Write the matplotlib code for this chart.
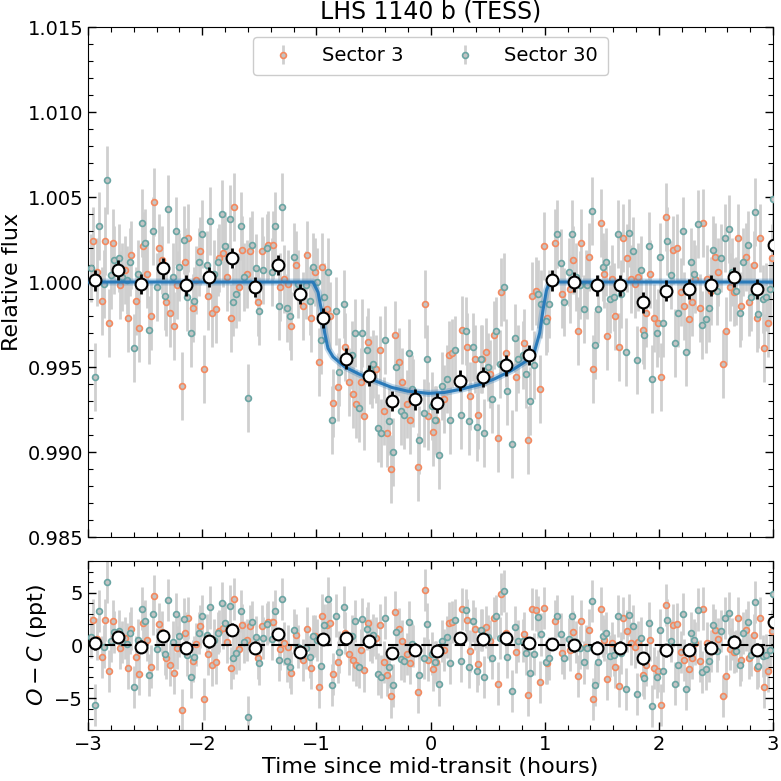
import numpy as np
import matplotlib
matplotlib.use("Agg")
import matplotlib.pyplot as plt
from matplotlib.ticker import MultipleLocator, FormatStrFormatter

# ---------------- data ----------------
# Sector 3 (orange): time since mid-transit [h], flux deviation [ppt]
s3_t = [-2.96, -2.92, -2.88, -2.85, -2.82, -2.78, -2.72, -2.68, -2.65, -2.62,
        -2.58, -2.55, -2.52, -2.48, -2.45, -2.42, -2.38, -2.35, -2.32, -2.28,
        -2.25, -2.22, -2.18, -2.15, -2.12, -2.08, -2.05, -2.02, -1.98, -1.95,
        -1.91, -1.88, -1.85, -1.82, -1.78, -1.75, -1.72, -1.68, -1.65, -1.61,
        -1.58, -1.51,
        -1.48, -1.42, -1.38, -1.32, -1.28, -1.25, -1.22, -1.18, -1.12, -1.08,
        -1.05, -1.01, -0.98, -0.95, -0.91, -0.88, -0.85, -0.81, -0.75, -0.71,
        -0.68, -0.65, -0.61, -0.58, -0.55, -0.51, -0.48, -0.44, -0.41, -0.38,
        -0.35, -0.31, -0.28, -0.25, -0.21, -0.18, -0.15, -0.11, -0.05, -0.02,
        0.02, 0.05, 0.12, 0.16, 0.19, 0.28, 0.32, 0.35, 0.39, 0.42,
        0.45, 0.49, 0.52, 0.56, 0.59, 0.62, 0.66, 0.75, 0.82, 0.85,
        0.89, 0.92, 0.96, 0.99, 1.02, 1.09, 1.15, 1.22, 1.25, 1.29,
        1.32, 1.36, 1.39, 1.42,
        1.49, 1.52, 1.55, 1.59, 1.62, 1.65, 1.69, 1.72, 1.76, 1.79,
        1.82, 1.86, 1.89, 1.92, 1.96, 1.99, 2.02, 2.06, 2.12, 2.16,
        2.19, 2.22, 2.26, 2.29, 2.32, 2.36, 2.39, 2.42, 2.46, 2.49,
        2.52, 2.56, 2.59, 2.62, 2.66, 2.69, 2.72, 2.76, 2.79, 2.83,
        2.86, 2.89, 2.92, 2.96, 2.99]
s3_ppt = [2.4, 0.6, -1.1, 2.4, -2.4, 2.3, -0.2, 0.7, -2.1, 1.6,
          -1.1, -2.7, 2.1, 0.5, -2.0, 4.7, 2.0, 1.3, -1.2, -1.8,
          -2.6, -0.2, -6.1, 1.2, 2.6, -1.5, 0.1, 1.8, -5.1, -0.8,
          -1.8, -1.6, 1.4, 1.7, 0.3, -2.1, 4.4, -0.3, 1.9, 0.5,
          1.8, -1.2,
          1.8, 2.2, 2.2, -0.3, 0.2, -0.1, -2.6, 1.0, -1.4, 1.6,
          -2.1, 0.6, -4.7, 0.9, -1.6, -2.0, -7.1, -6.2, -3.8, -5.9,
          -6.6, -7.2, -5.9, -7.9, -3.5, -5.4, -5.1, -4.0, -7.6, -8.9,
          -11.0, -3.1, -4.7, -5.9, -7.2, -8.1, -6.5, -10.9, -1.3, -7.9,
          -8.8, -8.1, -6.9, -4.3, -4.2, -2.8, -3.8, -6.7, -4.5, -7.8,
          -4.5, -4.1, -5.4, -3.1, -9.2, -0.6, -4.2, -5.6, -3.6, -9.3,
          -0.8, -0.5, -6.3, 2.1, -2.1, 2.3, -0.7, -0.4, 1.3, -2.9,
          2.3, -0.1, 1.5, -5.1,
          3.5, 0.5, -3.2, 0.2, -2.0, -3.8, 2.6, 1.4, 0.2, -0.1,
          0.3, -2.8, -1.8, 0.5, -2.1, -2.4, -5.6, 3.8, 1.9, 2.0,
          -0.6, -1.4, -2.2, -1.2, 0.2, -1.5, 3.5, 0.2, -0.5, 1.5,
          0.6, -4.8, -2.9, -0.3, -0.6, 2.6, -1.4, 1.5, -1.2, 1.0,
          -2.1, 2.6, -3.9, -2.4, 1.4]

# Sector 30 (teal)
s30_t = [-2.97, -2.94, -2.90, -2.86, -2.83, -2.80, -2.77, -2.73, -2.70, -2.66,
         -2.63, -2.60, -2.56, -2.53, -2.50, -2.47, -2.43, -2.40, -2.33, -2.30,
         -2.26, -2.23, -2.20, -2.16, -2.13, -2.10, -2.07, -2.03, -2.00, -1.96,
         -1.93, -1.90, -1.86, -1.83, -1.80, -1.76, -1.73, -1.70, -1.66, -1.63,
         -1.60, -1.56, -1.53, -1.50,
         -1.47, -1.43, -1.39, -1.36, -1.33, -1.30, -1.26, -1.23, -1.20, -1.16,
         -1.09, -1.06, -1.03, -0.99, -0.96, -0.93, -0.90, -0.86, -0.83, -0.80,
         -0.76, -0.69, -0.66, -0.63, -0.60, -0.56, -0.53, -0.50, -0.46, -0.43,
         -0.40, -0.36, -0.33, -0.30, -0.26, -0.23, -0.19, -0.16, -0.10, -0.06,
         -0.03,
         0.01, 0.04, 0.07, 0.10, 0.14, 0.17, 0.21, 0.27, 0.31, 0.34,
         0.37, 0.41, 0.44, 0.47, 0.50, 0.54, 0.57, 0.61, 0.64, 0.67,
         0.71, 0.74, 0.77, 0.81, 0.84, 0.87, 0.91, 0.94, 0.97, 1.01,
         1.04, 1.11, 1.14, 1.17, 1.21, 1.24, 1.27, 1.31, 1.34, 1.37,
         1.41, 1.44, 1.47,
         1.51, 1.54, 1.57, 1.61, 1.64, 1.67, 1.71, 1.74, 1.77, 1.81,
         1.84, 1.87, 1.91, 1.94, 1.98, 2.01, 2.04, 2.07, 2.11, 2.14,
         2.17, 2.21, 2.24, 2.28, 2.31, 2.34, 2.38, 2.41, 2.44, 2.47,
         2.51, 2.54, 2.58, 2.61, 2.64, 2.68, 2.71, 2.74, 2.78, 2.81,
         2.84, 2.87, 2.91, 2.94, 2.97, 3.00]
s30_ppt = [0.8, -5.6, 3.3, -0.1, 6.0, 0.4, 1.3, 1.4, 0.3, 0.1,
           1.2, -3.9, 0.5, 3.5, 2.3, -2.8, 3.0, -0.3, -0.8, 4.3,
           0.3, 3.0, 0.9, 2.5, -0.9, -3.0, -1.1, 1.2, 2.8, 1.0,
           3.6, 0.5, 1.2, 4.0, 2.1, 3.7, -1.2, -0.7, 3.3, 0.3,
           -6.8, 2.2, 0.8, -1.7,
           0.7, 2.0, 0.6, 3.3, -1.4, 4.4, -1.5, -2.0, 1.5, -0.1,
           -0.2, -1.1, 0.9, 0.0, -3.4, -0.9, 0.6, -8.1, -1.7, -5.3,
           -1.3, -4.3, -3.0, -7.4, -3.0, -4.0, -5.2, -4.8, -8.6, -8.9,
           -3.4, -8.2, -10.0, -5.0, -7.6, -7.8, -4.2, -6.3, -9.3, -7.7,
           -4.5,
           -7.3, -8.1, -10.2, -6.1, -5.7, -8.1, -4.0, -7.8, -2.9, -8.2,
           -3.8, -8.5, -4.5, -8.9, -5.0, -6.9, -2.9, -4.8, -0.3, -6.4,
           -9.5, -3.3, -4.5, -4.3, -5.4, -7.0, -4.9, -0.7, -1.3, -2.3,
           -1.3, 2.8, 1.1, -1.2, 0.6, 2.8, 0.3, -0.2, -1.6, -0.2,
           4.2, -3.7, -1.6,
           0.9, 1.2, -1.0, -0.9, 2.8, -0.7, -4.1, 2.9, 1.8, -4.6,
           0.7, -3.1, 2.1, -5.7, -3.0, 1.5, -2.4, 2.4, 0.4, -3.6,
           -1.8, 3.0, -4.1, 1.2, 0.5, 3.4, -2.5, -2.2, -1.5, 1.9,
           -0.5, 1.4, 2.6, 3.1, 0.6, -0.5, -1.8, 1.2, 2.2, -0.9,
           4.1, -1.9, -1.0, -0.9, -0.4, 4.9]
point_err_ppt = 2.0

# Binned data
bin_t = [-2.94, -2.74, -2.54, -2.34, -2.14, -1.94, -1.74, -1.54, -1.34, -1.14,
         -0.94, -0.74, -0.54, -0.34, -0.14, 0.06, 0.26, 0.46, 0.66, 0.86,
         1.06, 1.26, 1.46, 1.66, 1.86, 2.06, 2.26, 2.46, 2.66, 2.86, 3.01]
bin_ppt = [0.1, 0.7, -0.1, 0.8, -0.2, 0.3, 1.4, -0.3, 1.0, -0.7,
           -2.1, -4.5, -5.5, -7.0, -6.9, -7.1, -5.8, -5.6, -4.9, -4.3,
           0.1, 0.0, -0.2, -0.2, -1.2, -0.5, -0.4, -0.2, 0.3, -0.4, 2.2]
bin_resid = [0.2, 0.8, -0.1, 0.9, -0.2, 0.4, 1.5, -0.2, 1.1, -0.6,
             0.6, 0.7, 0.4, -0.7, -0.4, -0.5, 0.7, 0.6, 0.7, 0.25,
             0.15, 0.0, -0.2, -0.2, -1.2, -0.45, -0.4, -0.2, 0.35, -0.4, 2.2]
bin_err_ppt = 0.6

# Transit model
model_t = [-3.0, -1.03, -0.985, -0.956, -0.927, -0.898, -0.854, -0.75, -0.63,
           -0.49, -0.34, -0.20, -0.02, 0.12, 0.27, 0.42, 0.56, 0.71, 0.85,
           0.91, 0.956, 0.985, 1.015, 1.044, 3.0]
model_ppt = [0, 0, -0.6, -1.65, -3.0, -3.9, -4.4, -5.0, -5.4,
             -5.8, -6.2, -6.42, -6.55, -6.5, -6.3, -6.05, -5.7, -5.2, -4.6,
             -4.1, -3.0, -1.65, -0.5, 0, 0]

# ---------------- styling ----------------
c_s3 = '#F4895F'
c_s30 = '#6AA5A3'
c_err = '#cfcfcf'
c_face = '#c4c4c4'
c_model = '#2a7ab9'

plt.rcParams['font.family'] = ['DejaVu Sans']

fig = plt.figure(figsize=(7.81, 7.81), dpi=100)
ax = fig.add_axes([0.1127, 0.3124, 0.8771, 0.6530])
axr = fig.add_axes([0.1127, 0.0653, 0.8771, 0.2164])

s3_t_a = np.array(s3_t); s3_f = np.array(s3_ppt)
s30_t_a = np.array(s30_t); s30_f = np.array(s30_ppt)
mt = np.array(model_t); mf = np.array(model_ppt)

s3_res = s3_f - np.interp(s3_t_a, mt, mf)
s30_res = s30_f - np.interp(s30_t_a, mt, mf)


def draw_points(a, t, y, scale, color, label):
    eb = a.errorbar(t, y, yerr=point_err_ppt * scale, fmt='o', ms=4.2,
                    mfc=c_face, mec=color, mew=1.2, ecolor=c_err,
                    elinewidth=2.0, capsize=0, label=label, zorder=3)
    for bl in eb[2]:
        bl.set_zorder(1)
    return eb


# main panel
draw_points(ax, s3_t_a, 1 + s3_f / 1000, 1e-3, c_s3, 'Sector 3')
draw_points(ax, s30_t_a, 1 + s30_f / 1000, 1e-3, c_s30, 'Sector 30')
ax.plot(mt, 1 + mf / 1000, color=c_model, lw=5, alpha=0.3, zorder=4,
        solid_joinstyle='round')
ax.plot(mt, 1 + mf / 1000, color=c_model, lw=2.2, zorder=4.5,
        solid_joinstyle='round')
ax.errorbar(bin_t, 1 + np.array(bin_ppt) / 1000, yerr=bin_err_ppt * 1e-3,
            fmt='o', ms=8.5, mfc='white', mec='k', mew=1.5, ecolor='k',
            elinewidth=2, capsize=0, zorder=6)

ax.set_xlim(-3, 3)
ax.set_ylim(0.985, 1.015)
ax.yaxis.set_major_locator(MultipleLocator(0.005))
ax.yaxis.set_minor_locator(MultipleLocator(0.001))
ax.yaxis.set_major_formatter(FormatStrFormatter('%.3f'))
ax.xaxis.set_major_locator(MultipleLocator(1))
ax.xaxis.set_minor_locator(MultipleLocator(0.2))
ax.set_ylabel('Relative flux', fontsize=16)
ax.set_title('LHS 1140 b (TESS)', fontsize=17, pad=6)
ax.tick_params(labelbottom=False)

leg = ax.legend(loc='upper center', ncol=2, fontsize=14, columnspacing=2.2,
                handletextpad=1.0, borderpad=0.5, framealpha=1.0)

# residual panel
draw_points(axr, s3_t_a, s3_res, 1, c_s3, None)
draw_points(axr, s30_t_a, s30_res, 1, c_s30, None)
axr.axhline(0, color='k', ls='--', lw=1.5, zorder=5, dashes=(5, 3))
axr.errorbar(bin_t, bin_resid, yerr=bin_err_ppt, fmt='o', ms=8.5,
             mfc='white', mec='k', mew=1.5, ecolor='k', elinewidth=2,
             capsize=0, zorder=6)
axr.set_xlim(-3, 3)
axr.set_ylim(-8, 8)
axr.yaxis.set_major_locator(MultipleLocator(5))
axr.yaxis.set_minor_locator(MultipleLocator(1))
axr.xaxis.set_major_locator(MultipleLocator(1))
axr.xaxis.set_minor_locator(MultipleLocator(0.2))
axr.set_ylabel('$O-C$ (ppt)', fontsize=16)
axr.set_xlabel('Time since mid-transit (hours)', fontsize=16, labelpad=2)

for a in (ax, axr):
    a.tick_params(which='both', direction='in', top=True, right=True,
                  labelsize=14)
    a.tick_params(which='major', length=6, width=1)
    a.tick_params(which='minor', length=3.5, width=0.8)

fig.savefig('out.png', dpi=100)
